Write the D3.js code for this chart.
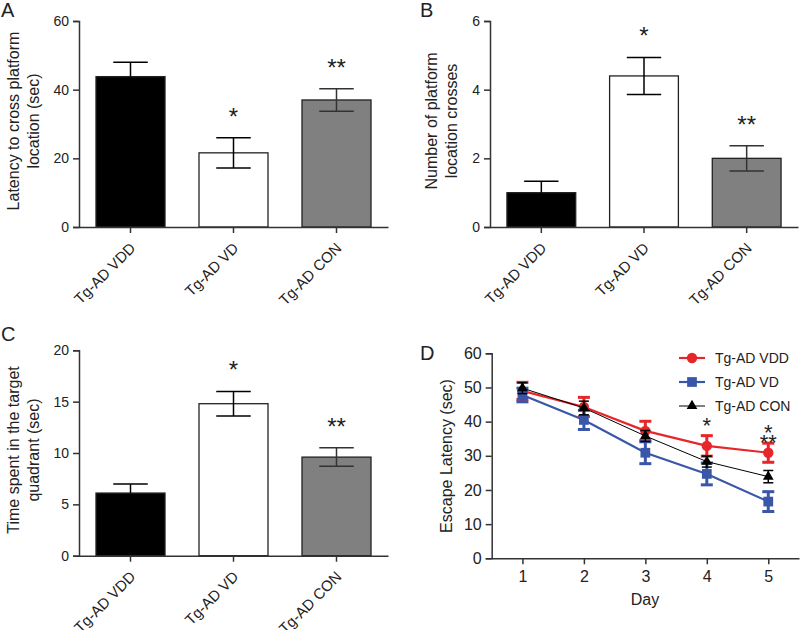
<!DOCTYPE html>
<html><head><meta charset="utf-8">
<script src="https://cdn.jsdelivr.net/npm/d3@7"></script>
<style>body{margin:0;background:#fff}svg{font-family:"Liberation Sans",Arial,Helvetica,sans-serif}</style>
</head><body>
<svg id="c" width="800" height="630"></svg>
<script>
const groups = ["Tg-AD VDD", "Tg-AD VD", "Tg-AD CON"];
const barFill = ["#000000", "#ffffff", "#808080"];
// Panel A
const latencyMean = [43.8, 21.6, 37.0];
const latencyErr = [4.2, 4.4, 3.3];
const latencyStars = ["", "*", "**"];
// Panel B
const crossesMean = [1.0, 4.4, 2.0];
const crossesErr = [0.33, 0.54, 0.37];
const crossesStars = ["", "*", "**"];
// Panel C
const quadMean = [6.1, 14.8, 9.6];
const quadErr = [0.87, 1.2, 0.9];
const quadStars = ["", "*", "**"];
// Panel D
const days = [1, 2, 3, 4, 5];
const vddEscape = [49.0, 44.3, 37.3, 32.9, 30.9];
const vddEscErr = [2.5, 2.8, 2.8, 3.0, 2.8];
const vdEscape = [47.8, 40.5, 30.9, 24.7, 16.6];
const vdEscErr = [2.0, 2.8, 3.2, 3.2, 2.9];
const conEscape = [49.8, 44.0, 35.8, 28.3, 23.9];
const conEscErr = [1.6, 2.0, 1.6, 1.6, 1.8];
const dayStars = [{day: 4, lines: ["*"]}, {day: 5, lines: ["*", "**"]}];

const svg = d3.select("#c");
const AX = "#333";

function styleAxis(g, fs) {
  g.selectAll("path,line").attr("stroke", AX).attr("stroke-width", 1.5);
  g.selectAll("text").attr("fill", "#222").style("font-size", fs + "px");
  g.select(".domain").attr("stroke-width", 1.5);
}

function barPanel(o) {
  const {x0, x1, yTop, yBot, max, ticks, mean, err, stars, title, letter, lx, ly, tx} = o;
  const g = svg.append("g");
  const x = d3.scaleBand().domain(groups).range([x0, x1]).paddingInner(0.33).paddingOuter(0.165);
  const y = d3.scaleLinear().domain([0, max]).range([yBot, yTop]);
  g.selectAll("rect.bar").data(groups).join("rect")
    .attr("x", d => x(d)).attr("width", x.bandwidth())
    .attr("y", (d, i) => y(mean[i])).attr("height", (d, i) => y(0) - y(mean[i]))
    .attr("fill", (d, i) => barFill[i]).attr("stroke", "#222").attr("stroke-width", 1.3);
  const cw = x.bandwidth() / 4;
  groups.forEach((d, i) => {
    const cx = x(d) + x.bandwidth() / 2;
    const col = i === 2 ? "#333" : "#000";
    const lo = i === 0 ? mean[i] : mean[i] - err[i];
    g.append("line").attr("x1", cx).attr("x2", cx).attr("y1", y(lo)).attr("y2", y(mean[i] + err[i])).attr("stroke", col).attr("stroke-width", 1.5);
    g.append("line").attr("x1", cx - cw).attr("x2", cx + cw).attr("y1", y(mean[i] + err[i])).attr("y2", y(mean[i] + err[i])).attr("stroke", col).attr("stroke-width", 1.5);
    if (i !== 0) g.append("line").attr("x1", cx - cw).attr("x2", cx + cw).attr("y1", y(mean[i] - err[i])).attr("y2", y(mean[i] - err[i])).attr("stroke", col).attr("stroke-width", 1.5);
    if (stars[i]) g.append("text").attr("x", cx).attr("y", y(mean[i] + err[i]) - 27 + 14).attr("text-anchor", "middle").style("font-size", "24px").attr("fill", "#222").text(stars[i]);
  });
  const ya = g.append("g").attr("transform", `translate(${x0},0)`).call(d3.axisLeft(y).tickValues(ticks).tickFormat(d3.format("d")).tickSize(6).tickPadding(4));
  styleAxis(ya, 14);
  const xa = g.append("g").attr("transform", `translate(0,${yBot})`).call(d3.axisBottom(x).tickSize(6).tickSizeOuter(0));
  styleAxis(xa, 15);
  xa.selectAll("text").attr("text-anchor", "end").attr("dy", null).attr("y", null)
    .attr("transform", "translate(6,22) rotate(-45)");
  const t = g.append("text").attr("transform", `translate(${tx},${(yTop + yBot) / 2 - 3}) rotate(-90)`)
    .attr("text-anchor", "middle").style("font-size", "16px").attr("fill", "#222");
  title.forEach((s, k) => t.append("tspan").attr("x", 0).attr("dy", k === 0 ? 0 : "1.25em").text(s));
  svg.append("text").attr("x", lx).attr("y", ly).style("font-size", "20px").attr("fill", "#222").text(letter);
}

barPanel({x0: 79, x1: 388, yTop: 21, yBot: 227, max: 60, ticks: [0, 20, 40, 60], mean: latencyMean, err: latencyErr, stars: latencyStars,
  title: ["Latency to cross platform", "location (sec)"], letter: "A", lx: 1, ly: 17, tx: 19});
barPanel({x0: 490, x1: 798, yTop: 21, yBot: 227, max: 6, ticks: [0, 2, 4, 6], mean: crossesMean, err: crossesErr, stars: crossesStars,
  title: ["Number of platform", "location crosses"], letter: "B", lx: 420, ly: 17, tx: 437});
barPanel({x0: 79, x1: 388, yTop: 350.3, yBot: 555.7, max: 20, ticks: [0, 5, 10, 15, 20], mean: quadMean, err: quadErr, stars: quadStars,
  title: ["Time spent in the target", "quadrant (sec)"], letter: "C", lx: 1, ly: 341, tx: 19});

// Panel D
(function () {
  const g = svg.append("g");
  const x = d3.scaleLinear().domain([0.5, 5.5]).range([491.7, 799]);
  const y = d3.scaleLinear().domain([0, 60]).range([558.3, 353.3]);
  const series = [
    {name: "Tg-AD VDD", vals: vddEscape, err: vddEscErr, color: "#e8262a", lw: 2.2, ew: 3, cap: 6, sym: d3.symbolCircle, size: 85},
    {name: "Tg-AD VD", vals: vdEscape, err: vdEscErr, color: "#3a56a8", lw: 2.2, ew: 3, cap: 6, sym: d3.symbolSquare, size: 95},
    {name: "Tg-AD CON", vals: conEscape, err: conEscErr, color: "#000000", lw: 1, ew: 1.5, cap: 5, sym: d3.symbolTriangle, size: 50}
  ];
  const line = d3.line().x((d, i) => x(days[i])).y(d => y(d));
  series.forEach(s => {
    g.append("path").datum(s.vals).attr("d", line).attr("fill", "none").attr("stroke", s.color).attr("stroke-width", s.lw);
    s.vals.forEach((v, i) => {
      const cx = x(days[i]);
      g.append("line").attr("x1", cx).attr("x2", cx).attr("y1", y(v - s.err[i])).attr("y2", y(v + s.err[i])).attr("stroke", s.color).attr("stroke-width", s.ew);
      [v - s.err[i], v + s.err[i]].forEach(e => g.append("line").attr("x1", cx - s.cap).attr("x2", cx + s.cap).attr("y1", y(e)).attr("y2", y(e)).attr("stroke", s.color).attr("stroke-width", s.ew));
      g.append("path").attr("d", d3.symbol(s.sym, s.size)()).attr("transform", `translate(${cx},${y(v)})`).attr("fill", s.color);
    });
  });
  dayStars.forEach(st => {
    const i = days.indexOf(st.day);
    const top = y(vddEscape[i] + vddEscErr[i]);
    const t = g.append("text").attr("text-anchor", "middle").style("font-size", "22px").attr("fill", "#222");
    st.lines.forEach((s, k) => t.append("tspan").attr("x", x(st.day))
      .attr(k === 0 ? "y" : "dy", k === 0 ? top - 3 : 9.5).text(s));
  });
  const ya = g.append("g").attr("transform", "translate(491.7,0)").call(d3.axisLeft(y).tickValues([0, 10, 20, 30, 40, 50, 60]).tickSize(6).tickPadding(4));
  styleAxis(ya, 16);
  const xa = g.append("g").attr("transform", "translate(0,558.3)").call(d3.axisBottom(x).tickValues(days).tickFormat(d3.format("d")).tickSize(6).tickPadding(6).tickSizeOuter(0));
  styleAxis(xa, 16);
  g.append("text").attr("x", 645).attr("y", 605).attr("text-anchor", "middle").style("font-size", "16px").attr("fill", "#222").text("Day");
  g.append("text").attr("transform", "translate(452,456) rotate(-90)").attr("text-anchor", "middle").style("font-size", "16px").attr("fill", "#222").text("Escape Latency (sec)");
  series.forEach((s, k) => {
    const ly = 358 + k * 24;
    g.append("line").attr("x1", 679).attr("x2", 705).attr("y1", ly).attr("y2", ly).attr("stroke", s.color).attr("stroke-width", s.lw);
    g.append("path").attr("d", d3.symbol(s.sym, s.size)()).attr("transform", `translate(692,${ly})`).attr("fill", s.color);
    g.append("text").attr("x", 715).attr("y", ly + 5).style("font-size", "14px").attr("fill", "#222").text(s.name);
  });
  svg.append("text").attr("x", 420).attr("y", 360).style("font-size", "20px").attr("fill", "#222").text("D");
})();
</script>
</body></html>
